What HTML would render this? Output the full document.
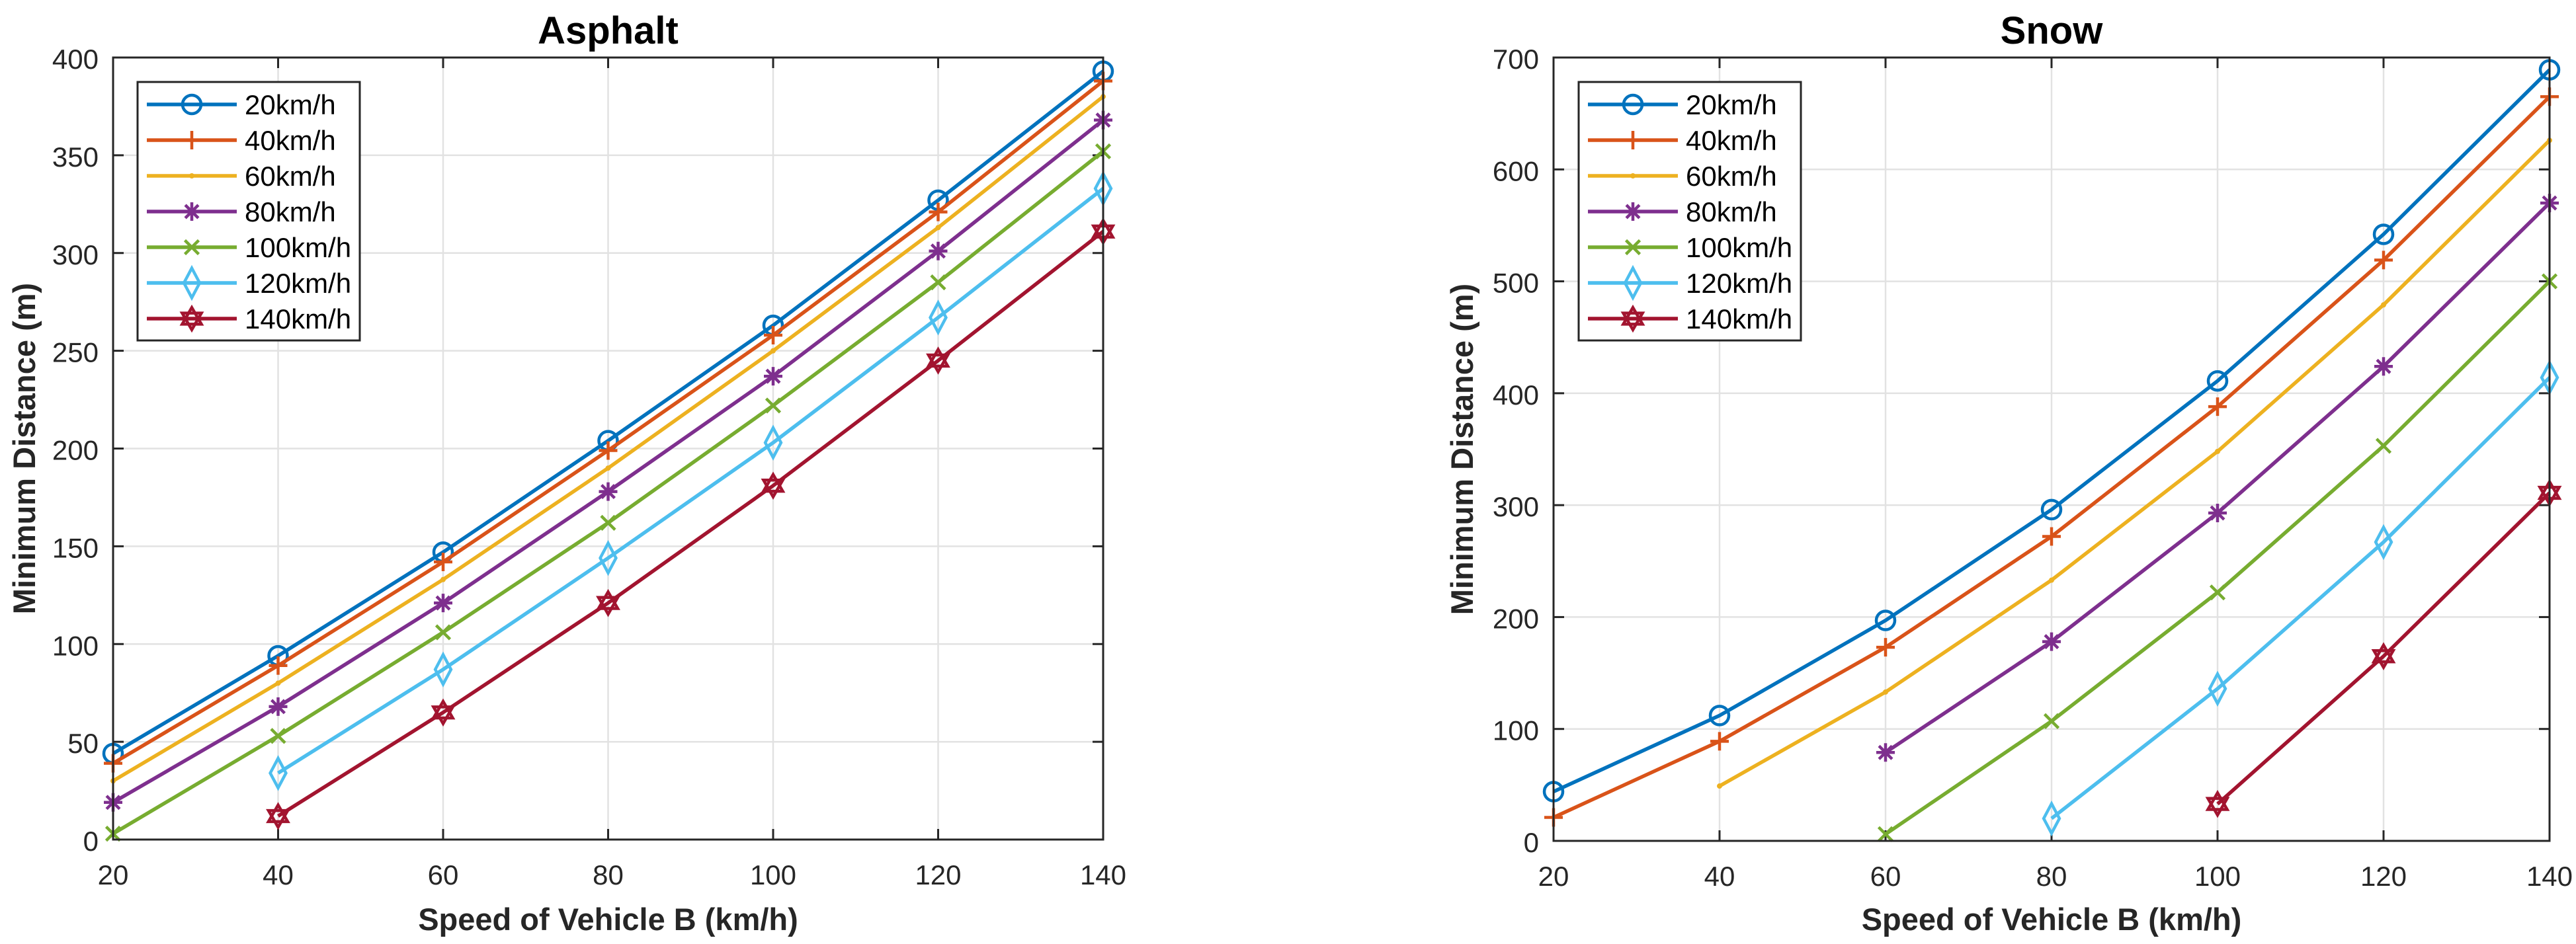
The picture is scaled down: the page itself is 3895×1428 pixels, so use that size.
<!DOCTYPE html>
<html><head><meta charset="utf-8"><style>
html,body{margin:0;padding:0;background:#fff;width:3895px;height:1428px;overflow:hidden}
svg{display:block;font-family:"Liberation Sans",Arial,sans-serif}
</style></head><body>
<svg id="fig" width="3895" height="1428" viewBox="0 0 3895 1428" xmlns="http://www.w3.org/2000/svg"></svg>
<script>
const xCategories = [20, 40, 60, 80, 100, 120, 140];
const seriesNames = ["20km/h","40km/h","60km/h","80km/h","100km/h","120km/h","140km/h"];
const asphalt20 = [44, 94, 147, 204, 263, 327, 393];
const asphalt40 = [39, 89, 142, 199, 258, 321, 388];
const asphalt60 = [30, 80, 133, 190, 250, 313, 380];
const asphalt80 = [19, 68, 121, 178, 237, 301, 368];
const asphalt100 = [3, 53, 106, 162, 222, 285, 352];
const asphalt120 = [null, 34, 87, 144, 203, 267, 333];
const asphalt140 = [null, 12, 65, 121, 181, 245, 311];
const snow20 = [44, 112, 197, 296, 411, 542, 689];
const snow40 = [21, 89, 173, 272, 388, 519, 665];
const snow60 = [null, 49, 133, 233, 348, 479, 626];
const snow80 = [null, null, 79, 178, 293, 424, 570];
const snow100 = [null, null, 6, 107, 222, 353, 500];
const snow120 = [null, null, null, 20, 136, 267, 414];
const snow140 = [null, null, null, null, 33, 165, 311];
const asphaltYTicks = [0, 50, 100, 150, 200, 250, 300, 350, 400];
const snowYTicks = [0, 100, 200, 300, 400, 500, 600, 700];
const xTicks = [20, 40, 60, 80, 100, 120, 140];

const colors = ["#0072BD","#D95319","#EDB120","#7E2F8E","#77AC30","#4DBEEE","#A2142F"];
const markers = ["circle","plus","point","asterisk","x","diamond","hexagram"];
const NS = "http://www.w3.org/2000/svg";
const svg = document.getElementById("fig");
function mk(tag, attrs, parent){const e=document.createElementNS(NS,tag);for(const k in attrs)e.setAttribute(k,attrs[k]);(parent||svg).appendChild(e);return e;}

function drawMarker(g, type, cx, cy, col){
  const r = 14; let m;
  const sw = 4.5;
  if(type==="circle"){m=mk("circle",{cx,cy,r,fill:"none",stroke:col,"stroke-width":sw},g);}
  else if(type==="plus"){m=mk("path",{d:`M${cx-r},${cy}H${cx+r}M${cx},${cy-r}V${cy+r}`,stroke:col,"stroke-width":sw,fill:"none"},g);}
  else if(type==="point"){m=mk("circle",{cx,cy,r:4,fill:col},g);}
  else if(type==="asterisk"){let d="";for(let i=0;i<4;i++){const a=i*Math.PI/4;d+=`M${cx-r*Math.cos(a)},${cy-r*Math.sin(a)}L${cx+r*Math.cos(a)},${cy+r*Math.sin(a)}`;}m=mk("path",{d,stroke:col,"stroke-width":sw,fill:"none"},g);}
  else if(type==="x"){const q=r*0.75;m=mk("path",{d:`M${cx-q},${cy-q}L${cx+q},${cy+q}M${cx-q},${cy+q}L${cx+q},${cy-q}`,stroke:col,"stroke-width":sw,fill:"none"},g);}
  else if(type==="diamond"){const w=r*0.85,h=r*1.6;m=mk("path",{d:`M${cx},${cy-h}L${cx+w},${cy}L${cx},${cy+h}L${cx-w},${cy}Z`,stroke:col,"stroke-width":sw,fill:"none"},g);}
  else if(type==="hexagram"){const R=r*1.2;let p1=[],p2=[];for(let i=0;i<3;i++){const a=-Math.PI/2+i*2*Math.PI/3;p1.push(`${cx+R*Math.cos(a)},${cy+R*Math.sin(a)}`);const b=Math.PI/2+i*2*Math.PI/3;p2.push(`${cx+R*Math.cos(b)},${cy+R*Math.sin(b)}`);}m=mk("g",{},g);mk("polygon",{points:p1.join(" "),stroke:col,"stroke-width":sw,fill:"none"},m);mk("polygon",{points:p2.join(" "),stroke:col,"stroke-width":sw,fill:"none"},m);}
  
  
}

function drawPanel(opt){
  const {x0,x1,y0,y1,ymax,yTicks,series,title,legX,key} = opt;
  const sx = v => x0 + (v-20)/(140-20)*(x1-x0);
  const sy = v => y1 - v/ymax*(y1-y0);
  const g = mk("g",{});
  
  
  const grid = mk("g",{},g);
  
  
  xTicks.forEach(t=>mk("line",{x1:sx(t),x2:sx(t),y1:y0,y2:y1,stroke:"#e2e2e2","stroke-width":2.5},grid));
  yTicks.forEach(t=>mk("line",{x1:x0,x2:x1,y1:sy(t),y2:sy(t),stroke:"#e2e2e2","stroke-width":2.5},grid));
  const tl=16;
  xTicks.forEach(t=>{mk("line",{x1:sx(t),x2:sx(t),y1:y1,y2:y1-tl,stroke:"#262626","stroke-width":3},g);mk("line",{x1:sx(t),x2:sx(t),y1:y0,y2:y0+tl,stroke:"#262626","stroke-width":3},g);});
  yTicks.forEach(t=>{mk("line",{x1:x0,x2:x0+tl,y1:sy(t),y2:sy(t),stroke:"#262626","stroke-width":3},g);mk("line",{x1:x1,x2:x1-tl,y1:sy(t),y2:sy(t),stroke:"#262626","stroke-width":3},g);});
  series.forEach((vals,i)=>{
    const sg = mk("g",{},g);
    
    
    let d="";
    vals.forEach((v,j)=>{ if(v===null) return; d += (d===""?"M":"L")+sx(xCategories[j])+","+sy(v); });
    const p = mk("path",{d,fill:"none",stroke:colors[i],"stroke-width":5.5,"stroke-linejoin":"round"},sg);
    
    
    vals.forEach((v,j)=>{ if(v===null) return; drawMarker(sg,markers[i],sx(xCategories[j]),sy(v),colors[i]); });
  });
  const box = mk("rect",{x:x0,y:y0,width:x1-x0,height:y1-y0,fill:"none",stroke:"#262626","stroke-width":3},g);
  
  
  xTicks.forEach(t=>{const e=mk("text",{x:sx(t),y:y1+68,"text-anchor":"middle","font-size":42,fill:"#262626"},g);e.textContent=t;
    
    });
  yTicks.forEach(t=>{const e=mk("text",{x:x0-22,y:sy(t)+17,"text-anchor":"end","font-size":42,fill:"#262626"},g);e.textContent=t;
    
    });
  const tt=mk("text",{x:(x0+x1)/2,y:66,"text-anchor":"middle","font-size":58,"font-weight":"bold",fill:"#000"},g);tt.textContent=title;
  
  
  const xl=mk("text",{x:(x0+x1)/2,y:1407,"text-anchor":"middle","font-size":47,"font-weight":"bold",fill:"#262626"},g);xl.textContent="Speed of Vehicle B (km/h)";
  
  
  const ylx = x0 - (key==="asphalt"?118:122);
  const yl=mk("text",{x:ylx,y:(y0+y1)/2,"text-anchor":"middle","font-size":47,"font-weight":"bold",fill:"#262626",transform:`rotate(-90 ${ylx} ${(y0+y1)/2})`},g);yl.textContent="Minimum Distance (m)";
  
  
  const lg = mk("g",{},g);
  
  
  const lw = 336, ly=124, lh=391;
  mk("rect",{x:legX,y:ly,width:lw,height:lh,fill:"#fff",stroke:"#262626","stroke-width":3},lg);
  seriesNames.forEach((n,i)=>{
    const cy = ly + 34 + i*54;
    const eg = mk("g",{},lg);
    
    
    mk("line",{x1:legX+14,x2:legX+150,y1:cy,y2:cy,stroke:colors[i],"stroke-width":5.5},eg);
    drawMarker(eg,markers[i],legX+82,cy,colors[i]);
    const t=mk("text",{x:legX+162,y:cy+15,"font-size":42,fill:"#000"},eg);t.textContent=n;
  });
}

drawPanel({key:"asphalt",x0:171,x1:1668,y0:87,y1:1270,ymax:400,yTicks:asphaltYTicks,title:"Asphalt",legX:208,
  series:[asphalt20,asphalt40,asphalt60,asphalt80,asphalt100,asphalt120,asphalt140]});
drawPanel({key:"snow",x0:2349,x1:3855,y0:87,y1:1272,ymax:700,yTicks:snowYTicks,title:"Snow",legX:2387,
  series:[snow20,snow40,snow60,snow80,snow100,snow120,snow140]});
</script>
</body></html>
